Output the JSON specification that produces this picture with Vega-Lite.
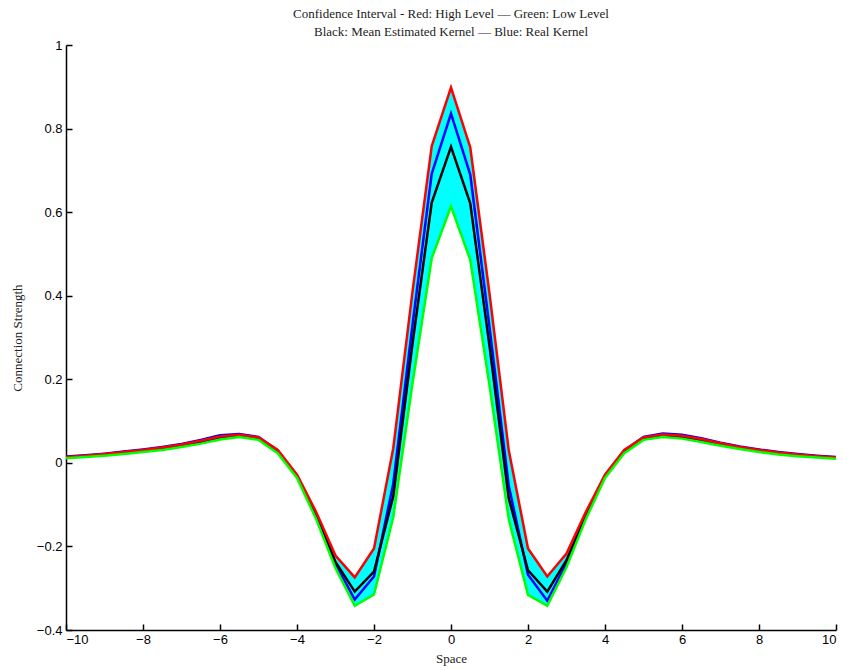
{
  "$schema": "https://vega.github.io/schema/vega-lite/v6.json",
  "width": 770,
  "height": 585,
  "autosize": {"type": "none"},
  "padding": {"left": 66, "top": 45, "right": 11, "bottom": 40},
  "background": "white",
  "title": {
    "text": ["Confidence Interval - Red: High Level — Green: Low Level", "Black: Mean Estimated Kernel — Blue: Real Kernel"],
    "font": "Liberation Serif",
    "fontSize": 13,
    "fontWeight": "normal",
    "color": "#222222",
    "anchor": "middle",
    "offset": 0,
    "lineHeight": 18
  },
  "config": {
    "view": {"stroke": null},
    "axis": {
      "domainColor": "black",
      "domainWidth": 1.5,
      "tickColor": "black",
      "tickWidth": 1.5,
      "grid": false,
      "labelFont": "Liberation Sans",
      "labelFontSize": 13,
      "labelColor": "black",
      "titleFont": "Liberation Serif",
      "titleFontSize": 13,
      "titleFontWeight": "normal",
      "titleColor": "#222222"
    }
  },
  "data": {
    "values": [
      {"x": -10, "high": 0.014, "low": 0.011, "mean": 0.013, "real": 0.015},
      {"x": -9.5, "high": 0.017, "low": 0.014, "mean": 0.016, "real": 0.018},
      {"x": -9, "high": 0.021, "low": 0.017, "mean": 0.019, "real": 0.022},
      {"x": -8.5, "high": 0.026, "low": 0.021, "mean": 0.024, "real": 0.027},
      {"x": -8, "high": 0.031, "low": 0.026, "mean": 0.029, "real": 0.032},
      {"x": -7.5, "high": 0.037, "low": 0.031, "mean": 0.035, "real": 0.038},
      {"x": -7, "high": 0.044, "low": 0.038, "mean": 0.042, "real": 0.045},
      {"x": -6.5, "high": 0.053, "low": 0.046, "mean": 0.05, "real": 0.055},
      {"x": -6, "high": 0.063, "low": 0.056, "mean": 0.06, "real": 0.066},
      {"x": -5.5, "high": 0.067, "low": 0.062, "mean": 0.064, "real": 0.069},
      {"x": -5, "high": 0.061, "low": 0.055, "mean": 0.058, "real": 0.062},
      {"x": -4.5, "high": 0.031, "low": 0.023, "mean": 0.027, "real": 0.03},
      {"x": -4, "high": -0.028, "low": -0.036, "mean": -0.032, "real": -0.03},
      {"x": -3.5, "high": -0.118, "low": -0.135, "mean": -0.126, "real": -0.124},
      {"x": -3, "high": -0.222, "low": -0.252, "mean": -0.237, "real": -0.242},
      {"x": -2.5, "high": -0.274, "low": -0.342, "mean": -0.308, "real": -0.327},
      {"x": -2, "high": -0.205, "low": -0.315, "mean": -0.26, "real": -0.272},
      {"x": -1.5, "high": 0.035, "low": -0.13, "mean": -0.08, "real": -0.05},
      {"x": -1, "high": 0.41, "low": 0.19, "mean": 0.285, "real": 0.33},
      {"x": -0.5, "high": 0.758, "low": 0.49, "mean": 0.623, "real": 0.692},
      {"x": 0, "high": 0.898, "low": 0.614, "mean": 0.756, "real": 0.836},
      {"x": 0.5, "high": 0.755, "low": 0.486, "mean": 0.621, "real": 0.69},
      {"x": 1, "high": 0.405, "low": 0.185, "mean": 0.28, "real": 0.325},
      {"x": 1.5, "high": 0.03, "low": -0.135, "mean": -0.085, "real": -0.055},
      {"x": 2, "high": -0.205, "low": -0.316, "mean": -0.257, "real": -0.268},
      {"x": 2.5, "high": -0.272, "low": -0.342, "mean": -0.308, "real": -0.33},
      {"x": 3, "high": -0.217, "low": -0.25, "mean": -0.233, "real": -0.24},
      {"x": 3.5, "high": -0.118, "low": -0.135, "mean": -0.126, "real": -0.124},
      {"x": 4, "high": -0.028, "low": -0.036, "mean": -0.032, "real": -0.03},
      {"x": 4.5, "high": 0.031, "low": 0.023, "mean": 0.027, "real": 0.03},
      {"x": 5, "high": 0.061, "low": 0.055, "mean": 0.058, "real": 0.062},
      {"x": 5.5, "high": 0.068, "low": 0.062, "mean": 0.065, "real": 0.07},
      {"x": 6, "high": 0.065, "low": 0.058, "mean": 0.062, "real": 0.067},
      {"x": 6.5, "high": 0.057, "low": 0.05, "mean": 0.054, "real": 0.059},
      {"x": 7, "high": 0.047, "low": 0.041, "mean": 0.044, "real": 0.048},
      {"x": 7.5, "high": 0.038, "low": 0.033, "mean": 0.036, "real": 0.039},
      {"x": 8, "high": 0.031, "low": 0.026, "mean": 0.029, "real": 0.032},
      {"x": 8.5, "high": 0.025, "low": 0.02, "mean": 0.023, "real": 0.026},
      {"x": 9, "high": 0.02, "low": 0.016, "mean": 0.018, "real": 0.021},
      {"x": 9.5, "high": 0.016, "low": 0.013, "mean": 0.015, "real": 0.017},
      {"x": 10, "high": 0.013, "low": 0.01, "mean": 0.012, "real": 0.014}
    ]
  },
  "encoding": {
    "x": {
      "field": "x",
      "type": "quantitative",
      "scale": {"domain": [-10, 10], "nice": false, "zero": false},
      "axis": {"title": "Space", "values": [-10, -8, -6, -4, -2, 0, 2, 4, 6, 8, 10], "format": "d", "tickSize": -6, "labelPadding": 9, "titlePadding": 6}
    }
  },
  "layer": [
    {
      "mark": {"type": "area", "color": "#00FFFF", "opacity": 1},
      "encoding": {
        "y": {
          "field": "high",
          "type": "quantitative",
          "scale": {"domain": [-0.4, 1], "nice": false, "zero": false},
          "axis": {"title": "Connection Strength", "values": [-0.4, -0.2, 0, 0.2, 0.4, 0.6, 0.8, 1], "format": "~r", "tickSize": -6, "labelPadding": 10, "titlePadding": 12}
        },
        "y2": {"field": "low"}
      }
    },
    {
      "mark": {"type": "line", "color": "#0000FF", "strokeWidth": 2.5},
      "encoding": {"y": {"field": "real", "type": "quantitative"}}
    },
    {
      "mark": {"type": "line", "color": "#000000", "strokeWidth": 2.5},
      "encoding": {"y": {"field": "mean", "type": "quantitative"}}
    },
    {
      "mark": {"type": "line", "color": "#FF0000", "strokeWidth": 2.5},
      "encoding": {"y": {"field": "high", "type": "quantitative"}}
    },
    {
      "mark": {"type": "line", "color": "#00FF00", "strokeWidth": 2.5},
      "encoding": {"y": {"field": "low", "type": "quantitative"}}
    }
  ]
}
